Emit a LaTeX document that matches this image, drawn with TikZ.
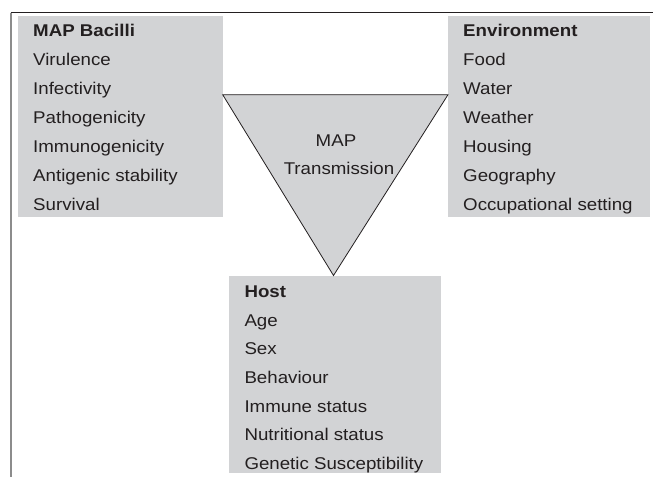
\documentclass[tikz,border=0pt]{standalone}
\usepackage{fontspec}
\setmainfont{Liberation Sans}[FakeStretch=1.1]
\definecolor{boxgray}{RGB}{210,211,213}
\definecolor{inkgray}{RGB}{35,31,32}
\begin{document}
\begin{tikzpicture}[x=1pt,y=-1pt,
  box/.style={fill=boxgray, draw=none, rectangle, anchor=north west, inner sep=0pt},
  txt/.style={anchor=base west, inner sep=0pt, text=inkgray, font=\fontsize{17}{20}\selectfont},
  tri/.style={fill=boxgray, draw=inkgray, line width=0.8pt, line join=miter}]
\useasboundingbox (0,0) rectangle (653,477);
\fill[white] (0,0) rectangle (653,477);
% frame lines
\coordinate (ftl) at (10.5,12.5);
\coordinate (ftr) at (653,12.5);
\coordinate (fbl) at (10.5,477);
\draw[line width=1.3pt, inkgray] (ftl) -- (ftr);
\draw[line width=2pt, gray!90] (ftl) -- (fbl);
% boxes
\node[box, minimum width=204.7pt, minimum height=200.7pt] (bac) at (18,16) {};
\node[box, minimum width=202pt, minimum height=200.5pt] (env) at (448,16) {};
\node[box, minimum width=211.7pt, minimum height=196.5pt] (host) at (229,276) {};
% triangle
\coordinate (tl) at (222.7,94.7);
\coordinate (tr) at (448,94.7);
\coordinate (tb) at (333.5,275.5);
\draw[tri] (tl) -- (tr) -- (tb) -- cycle;
\node[txt, anchor=base] (t1) at (336,146.7) {MAP};
\node[txt, anchor=base] (t2) at (339,174) {Transmission};
% texts
\node[txt] (bac0) at (33,36) {\textbf{MAP Bacilli}};
\foreach \t [count=\i] in {Virulence,Infectivity,Pathogenicity,Immunogenicity,Antigenic stability,Survival}
  \node[txt] (bac\i) at (33,36+29*\i) {\t};
\node[txt] (env0) at (463,36) {\textbf{Environment}};
\foreach \t [count=\i] in {Food,Water,Weather,Housing,Geography,Occupational setting}
  \node[txt] (env\i) at (463,36+29*\i) {\t};
\node[txt] (host0) at (244.3,297.3) {\textbf{Host}};
\foreach \t [count=\i] in {Age,Sex,Behaviour,Immune status,Nutritional status,Genetic Susceptibility}
  \node[txt] (host\i) at (244.3,297.3+28.7*\i) {\t};
\end{tikzpicture}
\end{document}
